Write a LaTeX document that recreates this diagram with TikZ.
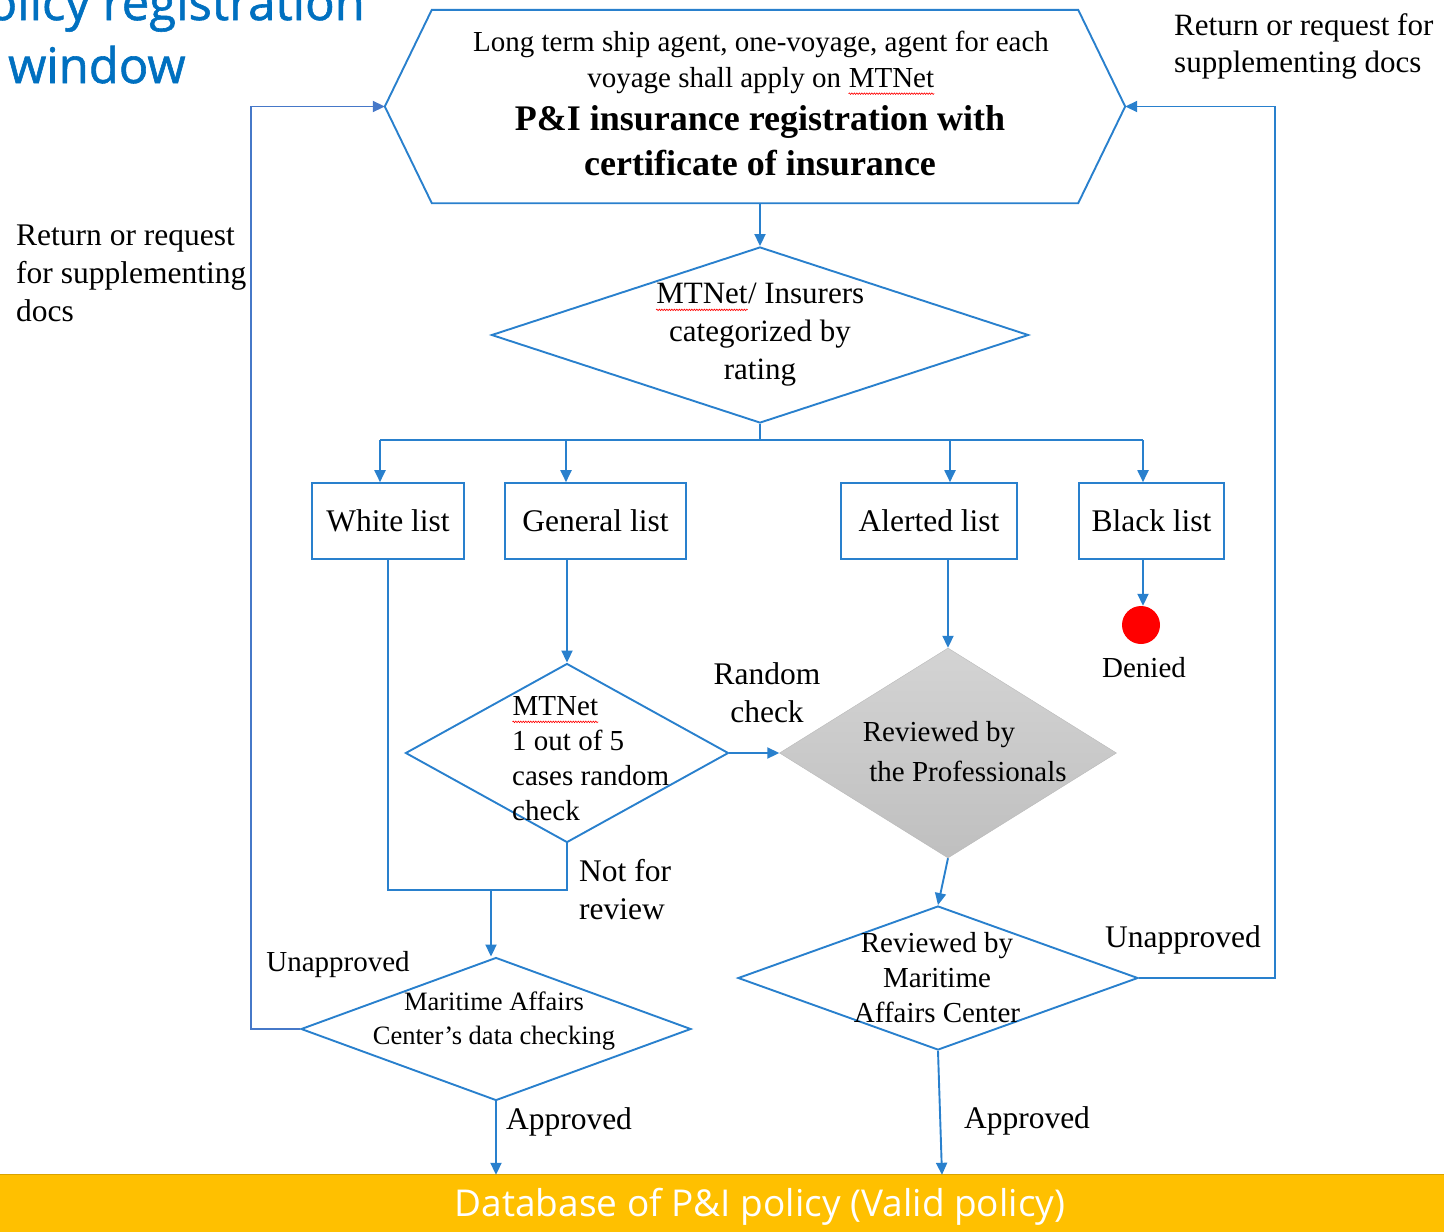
\documentclass[tikz,border=0pt]{standalone}
\usepackage{fontspec}
\setmainfont{Liberation Serif}
\newfontfamily\sansf{Open Sans}
\newfontfamily\sansb[FakeBold=1.2]{Open Sans}
\usetikzlibrary{shapes.geometric,arrows.meta,decorations.pathmorphing}
\definecolor{ln}{RGB}{41,128,205}
\definecolor{lnl}{RGB}{70,120,200}
\definecolor{ttl}{RGB}{0,112,192}
\definecolor{gold}{RGB}{255,192,0}
\newcommand\sq[1]{\tikz[baseline=(sqn.base),x=1pt,y=1pt]{\node[inner sep=0pt,anchor=base] (sqn) {#1};\draw[red,line width=0.6pt,decorate,decoration={snake,amplitude=0.8pt,segment length=2.5pt}] ([yshift=-6pt]sqn.base west) -- ([yshift=-6pt]sqn.base east);}}
\begin{document}
\begin{tikzpicture}[x=1pt,y=-1pt,
 line/.style={draw=ln,line width=1.9pt},
 arr/.style={line,-{Triangle[length=12pt,width=11pt]}},
 dia/.style={diamond,draw=ln,line width=1.9pt,inner sep=0pt},
 box/.style={draw=ln,line width=1.6pt,minimum height=76pt,inner sep=0pt,font=\fontsize{31.5}{34}\selectfont},
 lbl/.style={font=\fontsize{31.5}{38}\selectfont,inner sep=0pt},
 dtxt/.style={font=\fontsize{29}{35}\selectfont,inner sep=0pt,align=center}]
\useasboundingbox (0,0) rectangle (1444,1232);
\clip (0,0) rectangle (1444,1232);
% title
\node[anchor=base east,inner sep=0pt,text=ttl,font=\sansb\fontsize{49}{52}\selectfont] (t1) at (365,20) {policy registration};
\node[anchor=base west,inner sep=0pt,text=ttl,font=\sansb\fontsize{49}{52}\selectfont] (t2) at (8,83) {window};
% hexagon
\node[minimum width=740pt,minimum height=193pt,inner sep=0pt] (hex) at (755,106.5) {};
\draw[line] ([xshift=47pt]hex.north west) -- ([xshift=-47pt]hex.north east) -- (hex.east) -- ([xshift=-47pt]hex.south east) -- ([xshift=47pt]hex.south west) -- (hex.west) -- cycle;
\node[dtxt,font=\fontsize{29}{36}\selectfont] (hext) at (761,63) {Long term ship agent, one-voyage, agent for each\\voyage shall apply on \sq{MTNet}};
\node[dtxt,font=\bfseries\fontsize{36}{45}\selectfont] (hexb) at (760,141) {P\&I insurance registration with\\certificate of insurance};
% diamond 1
\node[dia,minimum width=537pt,minimum height=176pt] (d1) at (760,335) {};
\node[dtxt,font=\fontsize{31}{38}\selectfont] (d1t) at (760,335) {\sq{MTNet}/ Insurers\\categorized by\\rating};
% lists
\node[box,minimum width=152pt] (white) at (388,521) {White list};
\node[box,minimum width=181pt] (gen) at (595.5,521) {General list};
\node[box,minimum width=176pt] (alert) at (929,521) {Alerted list};
\node[box,minimum width=145pt] (black) at (1151.5,521) {Black list};
\coordinate (b1) at (380,440);
\coordinate (b2) at (566,440);
\coordinate (b3) at (950,440);
\coordinate (b4) at (1143,440);
% denied
\node[circle,fill=red,minimum size=38pt,inner sep=0pt] (den) at (1141,625) {};
\node[lbl,font=\fontsize{29}{30}\selectfont] (dent) at (1144,668) {Denied};
% diamond 2
\node[dia,minimum width=323pt,minimum height=179pt] (d2) at (567,753) {};
\node[dtxt,align=left,anchor=west] (d2t) at (512,759) {\sq{MTNet}\\1 out of 5\\cases random\\check};
% grey diamond
\node[diamond,inner sep=0pt,minimum width=337pt,minimum height=210pt,top color=gray!34,bottom color=gray!50,draw=gray!55] (grey) at (948,753) {};
\node[dtxt] (gt1) at (939,735) {Reviewed by};
\node[dtxt] (gt2) at (968,771) {the Professionals};
% diamond 4
\node[dia,minimum width=400pt,minimum height=144pt] (d4) at (938,978) {};
\node[dtxt] (d4t) at (937,978) {Reviewed by\\Maritime\\Affairs Center};
% diamond 3
\node[dia,minimum width=390pt,minimum height=143pt] (d3) at (496,1029) {};
\node[dtxt,font=\fontsize{26.5}{34}\selectfont] (d3t) at (494,1021) {Maritime Affairs\\Center’s data checking};
% database
\node[minimum width=1444pt,minimum height=57pt,inner sep=0pt,fill=gold] (db) at (722,1203.5) {};
\draw[draw=gold!85!black,line width=1.2pt] (db.north west) -- (db.north east);
\node[inner sep=0pt,text=white,font=\sansf\fontsize{37}{40}\selectfont] (dbt) at (760,1207) {Database of P\&I policy (Valid policy)};
% labels
\node[lbl,align=left,anchor=west,font=\fontsize{31}{37}\selectfont] (rr1) at (1174,46) {Return or request for\\supplementing docs};
\node[lbl,align=left,anchor=west] (rr2) at (16,273) {Return or request\\for supplementing\\docs};
\node[lbl,align=center] (rc) at (767,693) {Random\\check};
\node[lbl,align=left,anchor=west] (nfr) at (579,890) {Not for\\review};
\node[lbl,font=\fontsize{29}{30}\selectfont] (un1) at (338,965) {Unapproved};
\node[lbl] (un2) at (1183,940) {Unapproved};
\node[lbl] (ap1) at (569,1122) {Approved};
\node[lbl] (ap2) at (1027,1121) {Approved};
% connectors
\draw[arr] (d1.north |- hex.south) -- (d1.north);
\draw[line] (d1.south) -- (d1.south |- b1);
\draw[line] (b1) -- (b4);
\draw[arr] (b1) -- (b1 |- white.north);
\draw[arr] (b2) -- (b2 |- gen.north);
\draw[arr] (b3) -- (b3 |- alert.north);
\draw[arr] (b4) -- (b4 |- black.north);
\draw[arr] (b4 |- black.south) -- (b4 |- den.north);
\draw[arr] (d2.north |- gen.south) -- (d2.north);
\draw[arr] (d2.east) -- (grey.west);
\draw[arr] (grey.north |- alert.south) -- (grey.north);
\draw[arr] (grey.south) -- (d4.north);
\coordinate (j) at (491,890);
\draw[line] (white.south) -- (white.south |- j) -- (d2.south |- j) -- (d2.south);
\draw[arr] (j) -- (j |- d3.north);
\draw[arr] (d3.south) -- (d3.south |- db.north);
\draw[arr] (d4.south) -- ([xshift=4pt]d4.south |- db.north);
\draw[arr] (d4.east) -- ++(136,0) |- (hex.east);
\draw[arr,draw=lnl] (d3.west) -- ++(-49,0) |- (hex.west);
\end{tikzpicture}
\end{document}
